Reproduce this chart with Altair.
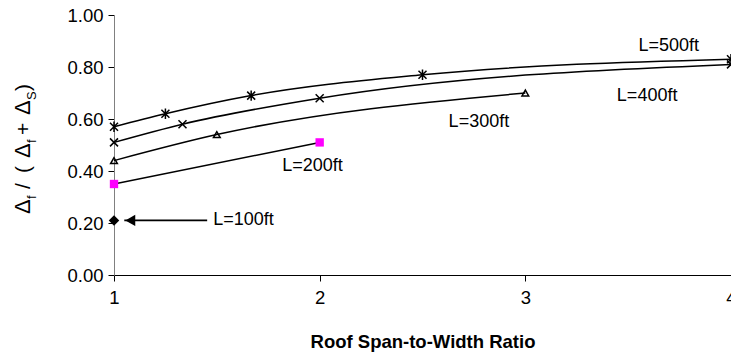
import altair as alt
import pandas as pd

# Roof span-to-width ratio vs. flexible-diaphragm share of deflection, by building length
ratio_100 = [1.0]
frac_100 = [0.21]
ratio_200 = [1.0, 2.0]
frac_200 = [0.35, 0.51]
ratio_300 = [1.0, 1.5, 3.0]
frac_300 = [0.44, 0.54, 0.70]
ratio_400 = [1.0, 1.333, 2.0, 4.0]
frac_400 = [0.51, 0.58, 0.68, 0.81]
ratio_500 = [1.0, 1.25, 1.667, 2.5, 4.0]
frac_500 = [0.57, 0.62, 0.69, 0.77, 0.83]

label_text = ["L=500ft", "L=400ft", "L=300ft", "L=200ft", "L=100ft"]
label_x = [3.55, 3.445, 2.627, 1.818, 1.482]
label_y = [0.88, 0.69, 0.59, 0.42, 0.21]

arrow_from = [1.453]
arrow_to = [1.05]
arrow_y = [0.21]

x_ticks = [1, 2, 3, 4]
y_ticks = [0.0, 0.2, 0.4, 0.6, 0.8, 1.0]

FONT = "Liberation Sans"


def series(name, xs, ys):
    return pd.DataFrame({"series": name, "ratio": xs, "frac": ys, "order": range(len(xs))})


lines = pd.concat([
    series("L=200ft", ratio_200, frac_200),
    series("L=300ft", ratio_300, frac_300),
    series("L=400ft", ratio_400, frac_400),
    series("L=500ft", ratio_500, frac_500),
])

x_scale = alt.Scale(domain=[1, 4], nice=False, zero=False)
y_scale = alt.Scale(domain=[0, 1], nice=False)

x_enc = alt.X("ratio:Q", scale=x_scale, axis=alt.Axis(
    values=x_ticks, format="d", title=None, grid=False, labelFlush=False,
    domainColor="black", tickColor="black", tickSize=6,
    labelFontSize=18.5, labelPadding=7, labelColor="black", labelFont=FONT))
y_enc = alt.Y("frac:Q", scale=y_scale, axis=alt.Axis(
    values=y_ticks, format=".2f", title=None, grid=False, labelFlush=False,
    domainColor="#808080", tickColor="black", tickSize=6,
    labelFontSize=18.5, labelPadding=5, labelColor="black", labelFont=FONT))

line_layer = alt.Chart(lines).mark_line(
    color="black", strokeWidth=1.5, interpolate="monotone"
).encode(x=x_enc, y=y_enc, detail="series:N", order="order:Q")

x_path = "M-1,-1L1,1M-1,1L1,-1"
star_path = "M-1,-1L1,1M-1,1L1,-1M0,-1.3L0,1.3"

pts_100 = alt.Chart(series("L=100ft", ratio_100, frac_100)).mark_point(
    shape="diamond", filled=True, color="black", size=110, opacity=1
).encode(x="ratio:Q", y="frac:Q")
pts_200 = alt.Chart(series("L=200ft", ratio_200, frac_200)).mark_point(
    shape="square", filled=True, color="#ff00ff", size=70, opacity=1
).encode(x="ratio:Q", y="frac:Q")
pts_300 = alt.Chart(series("L=300ft", ratio_300, frac_300)).mark_point(
    shape="triangle-up", filled=False, color="black", strokeWidth=1.5, size=45, opacity=1
).encode(x="ratio:Q", y="frac:Q")
pts_400 = alt.Chart(series("L=400ft", ratio_400, frac_400)).mark_point(
    shape=x_path, filled=False, color="black", strokeWidth=1.5, size=64, opacity=1
).encode(x="ratio:Q", y="frac:Q")
pts_500 = alt.Chart(series("L=500ft", ratio_500, frac_500)).mark_point(
    shape=star_path, filled=False, color="black", strokeWidth=1.5, size=64, opacity=1
).encode(x="ratio:Q", y="frac:Q")

labels = pd.DataFrame({"text": label_text, "lx": label_x, "ly": label_y})
label_layer = alt.Chart(labels).mark_text(
    align="left", baseline="middle", fontSize=18, font=FONT, color="black"
).encode(x="lx:Q", y="ly:Q", text="text:N")

arrow = pd.DataFrame({"a": arrow_from, "b": arrow_to, "y": arrow_y})
arrow_line = alt.Chart(arrow).mark_rule(color="black", strokeWidth=1.8).encode(
    x="a:Q", x2="b:Q", y="y:Q")
arrow_head = alt.Chart(arrow).mark_point(
    shape="triangle-left", filled=True, color="black", size=130, opacity=1
).encode(x=alt.X("b:Q"), y="y:Q", xOffset=alt.value(6))

one = pd.DataFrame({"k": [0]})

# y-axis title: Δf / (Δf + ΔS ) with subscripts, set as rotated pieces
title_pieces = [
    ("Δ", 199, 22, False),
    ("f", 184, 13, True),
    ("/", 174, 21, False),
    ("(", 158, 21, False),
    ("Δ", 143, 22, False),
    ("f", 128, 13, True),
    ("+", 120, 21, False),
    ("Δ", 100, 22, False),
    ("S", 85, 13, True),
    (")", 76, 21, False),
]
title_layers = []
for txt, py, fs, sub in title_pieces:
    title_layers.append(
        alt.Chart(one).mark_text(
            text=txt, angle=270, align="left", baseline="alphabetic",
            fontSize=fs, font=FONT, color="black"
        ).encode(x=alt.value(-78 if sub else -84), y=alt.value(py))
    )

x_title = alt.Chart(one).mark_text(
    text="Roof Span-to-Width Ratio", align="center", baseline="middle",
    fontSize=18.5, fontWeight="bold", font=FONT, color="black"
).encode(x=alt.value(309), y=alt.value(327))

chart = alt.layer(
    line_layer, pts_100, pts_200, pts_300, pts_400, pts_500,
    label_layer, arrow_line, arrow_head, x_title, *title_layers
).properties(
    width=617, height=260,
    autosize=alt.AutoSizeParams(type="none"),
    padding={"left": 114, "top": 15, "right": 0, "bottom": 80},
    background="white",
).configure_view(stroke=None)

chart.save("out.html", embed_options={"renderer": "svg", "actions": False})
